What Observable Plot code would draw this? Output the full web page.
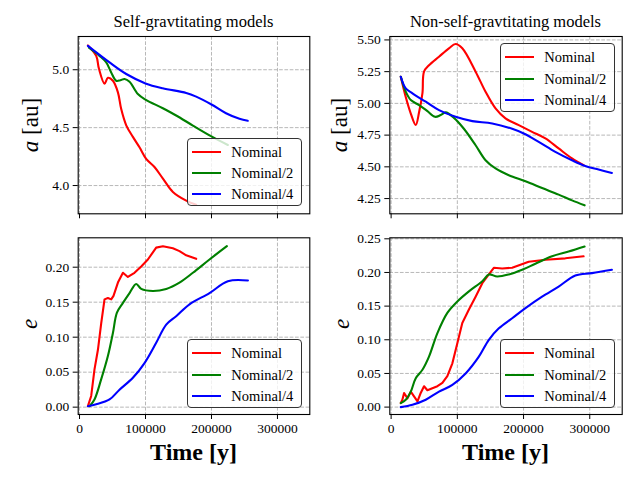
<!DOCTYPE html>
<html><head><meta charset="utf-8">
<script src="https://cdn.jsdelivr.net/npm/d3@7"></script>
<script src="https://cdn.jsdelivr.net/npm/@observablehq/plot@0.6"></script>
<style>
body{margin:0;background:#fff;}
#wrap{position:relative;width:640px;height:480px;font-family:"Liberation Serif",serif;overflow:hidden;}
.pan{position:absolute;}
.lbl{position:absolute;white-space:nowrap;color:#000;transform:translate(-50%,-50%);line-height:1;}
.rot{transform:translate(-50%,-50%) rotate(-90deg);}
.legend{position:absolute;width:113px;height:66.6px;border:1px solid #333;border-radius:4px;background:rgba(255,255,255,0.8);}
.sw{position:absolute;left:4px;width:28.4px;height:2px;}
.lt{position:absolute;left:43px;font-size:14.5px;line-height:1;transform:translateY(-50%);white-space:nowrap;}
</style></head>
<body><div id="wrap"></div>
<script>
// ---- data (time in years) ----
const seriesNames = ["Nominal", "Nominal/2", "Nominal/4"];
const seriesColors = ["red", "green", "blue"];
const xTicks = [0, 100000, 200000, 300000];

// Self-gravitating, semi-major axis a [au]
const sgA_nom_t = [12700, 25300, 29400, 37900, 43000, 50600, 58200, 63200, 70800, 80900, 90900, 101000, 113600, 126400, 141500, 161700, 176800];
const sgA_nom   = [5.21, 5.12, 5.01, 4.88, 4.93, 4.905, 4.805, 4.66, 4.52, 4.42, 4.33, 4.23, 4.16, 4.06, 3.945, 3.87, 3.835];
const sgA_half_t = [14200, 30300, 40500, 48000, 55600, 62000, 68200, 75800, 88400, 100000, 126300, 146500, 171800, 200000, 224800];
const sgA_half   = [5.19, 5.12, 5.063, 4.977, 4.905, 4.91, 4.92, 4.897, 4.79, 4.742, 4.667, 4.605, 4.518, 4.424, 4.35];
const sgA_quar_t = [12700, 45500, 70800, 100000, 126000, 161700, 176800, 200000, 222000, 242400, 255000];
const sgA_quar   = [5.206, 5.063, 4.963, 4.882, 4.84, 4.80, 4.768, 4.70, 4.624, 4.576, 4.559];

// Non-self-gravitating, a [au]
const nsgA_nom_t = [14600, 22100, 29700, 37200, 42200, 47300, 49700, 57200, 72300, 87300, 97400, 107500, 127600, 142600, 157700, 172700, 192800, 212900, 233000, 253000, 273200, 290700];
const nsgA_nom   = [5.21, 5.05, 4.92, 4.83, 4.93, 5.08, 5.25, 5.30, 5.368, 5.434, 5.468, 5.434, 5.25, 5.092, 4.96, 4.882, 4.829, 4.776, 4.724, 4.645, 4.566, 4.513];
const nsgA_half_t = [14600, 22100, 29700, 42200, 54800, 66300, 74800, 82400, 94900, 109900, 127600, 142600, 157700, 177700, 202900, 228000, 253000, 273200, 292200];
const nsgA_half   = [5.21, 5.092, 5.026, 4.987, 4.939, 4.894, 4.908, 4.929, 4.886, 4.80, 4.67, 4.552, 4.487, 4.434, 4.386, 4.333, 4.281, 4.236, 4.197];
const nsgA_quar_t = [14600, 22100, 32200, 52300, 72300, 97400, 122600, 152700, 182800, 200300, 222900, 248000, 273200, 293200, 313300, 333400];
const nsgA_quar   = [5.21, 5.118, 5.079, 5.013, 4.947, 4.894, 4.86, 4.842, 4.80, 4.763, 4.697, 4.618, 4.552, 4.507, 4.479, 4.452];

// Self-gravitating, eccentricity e
const sgE_nom_t = [12700, 17700, 22700, 27900, 32900, 37900, 43000, 48000, 51500, 58200, 65800, 73300, 83300, 93500, 103600, 116200, 126400, 141500, 151500, 161700, 176800];
const sgE_nom   = [0.0014, 0.016, 0.054, 0.082, 0.12, 0.154, 0.156, 0.154, 0.159, 0.178, 0.192, 0.186, 0.192, 0.201, 0.211, 0.228, 0.23, 0.227, 0.223, 0.217, 0.212];
const sgE_half_t = [15200, 22700, 32900, 43000, 50600, 56700, 65800, 75800, 85900, 93500, 111200, 131400, 151500, 171800, 197000, 223300];
const sgE_half   = [0.0014, 0.011, 0.04, 0.073, 0.106, 0.135, 0.149, 0.163, 0.176, 0.169, 0.166, 0.169, 0.178, 0.192, 0.211, 0.23];
const sgE_quar_t = [12700, 25300, 45500, 60600, 80900, 98500, 116200, 131400, 146500, 166700, 197000, 224800, 255200];
const sgE_quar   = [0.0014, 0.004, 0.011, 0.025, 0.042, 0.063, 0.092, 0.118, 0.13, 0.147, 0.163, 0.18, 0.181];

// Non-self-gravitating, e
const nsgE_nom_t = [14600, 17000, 19600, 24700, 29700, 34600, 39800, 44700, 49700, 54800, 62300, 69900, 77400, 84900, 92500, 100000, 107500, 117500, 127600, 137700, 147600, 155100, 167800, 182800, 207800, 233000, 263100, 290700];
const nsgE_nom   = [0.006, 0.011, 0.021, 0.013, 0.023, 0.016, 0.0085, 0.021, 0.031, 0.025, 0.028, 0.031, 0.036, 0.046, 0.065, 0.095, 0.125, 0.145, 0.164, 0.184, 0.197, 0.207, 0.206, 0.207, 0.216, 0.219, 0.221, 0.224];
const nsgE_half_t = [14600, 22100, 29700, 37200, 47300, 57200, 69900, 84900, 100000, 117500, 137700, 147600, 160200, 177700, 197900, 217900, 243100, 268100, 292200];
const nsgE_half   = [0.006, 0.011, 0.023, 0.043, 0.0555, 0.075, 0.11, 0.14, 0.157, 0.172, 0.187, 0.197, 0.194, 0.197, 0.204, 0.213, 0.224, 0.231, 0.2385];
const nsgE_quar_t = [14600, 32200, 52300, 72300, 92500, 112500, 132500, 147600, 162700, 182800, 202900, 228000, 253000, 278200, 303300, 333400];
const nsgE_quar   = [0.0, 0.0035, 0.011, 0.023, 0.033, 0.05, 0.075, 0.1, 0.117, 0.132, 0.147, 0.164, 0.179, 0.1955, 0.199, 0.204];

const sgATicks = [4.0, 4.5, 5.0];
const nsgATicks = [4.25, 4.5, 4.75, 5.0, 5.25, 5.5];
const sgETicks = [0, 0.05, 0.10, 0.15, 0.20];
const nsgETicks = [0, 0.05, 0.10, 0.15, 0.20, 0.25];

// ---- drawing ----
const xDomain = [-2000, 349000];
const wrap = document.getElementById("wrap");

function rows(t, v, name) { return t.map((d, i) => ({t: d, v: v[i], name})); }

function panel(o) {
  const lines = o.series.map((s, i) => Plot.line(rows(s[0], s[1], seriesNames[i]), {
    x: "t", y: "v", stroke: seriesColors[i], strokeWidth: 2.1,
    curve: (s[2] || "catmull-rom")
  }));
  const svg = Plot.plot({
    width: o.w, height: o.h,
    marginLeft: o.mL, marginRight: o.mR, marginTop: o.mT, marginBottom: o.mB,
    style: {background: "transparent", fontFamily: "'Liberation Serif', serif", fontSize: "13.5px", color: "black", overflow: "visible"},
    x: {domain: xDomain, type: "linear"},
    y: {domain: o.yDomain, type: "linear"},
    marks: [
      Plot.gridX(xTicks, {stroke: "#b0b0b0", strokeOpacity: 1, strokeWidth: 0.9, strokeDasharray: "3.7,1.6"}),
      Plot.gridY(o.yTicks, {stroke: "#b0b0b0", strokeOpacity: 1, strokeWidth: 0.9, strokeDasharray: "3.7,1.6"}),
      ...lines,
      Plot.axisX(xTicks, {tickSize: 5, tickPadding: 4, strokeWidth: 1, label: null,
        tickFormat: o.showX ? (d => String(d)) : (() => "")}),
      Plot.axisY(o.yTicks, {tickSize: 5, tickPadding: 4, strokeWidth: 1, label: null, tickFormat: o.yFmt}),
      Plot.frame({stroke: "black", strokeWidth: 1.1})
    ]
  });
  svg.classList.add("pan");
  svg.style.left = o.left + "px";
  svg.style.top = o.top + "px";
  wrap.appendChild(svg);
}

const f1 = d3.format(".1f"), f2 = d3.format(".2f");

panel({left: 0, top: 0, w: 320, h: 225, mL: 77.7, mR: 10.7, mT: 36, mB: 11.7,
  yDomain: [3.756, 5.287], yTicks: sgATicks, yFmt: f1, showX: false,
  series: [[sgA_nom_t, sgA_nom], [sgA_half_t, sgA_half], [sgA_quar_t, sgA_quar]]});
panel({left: 320, top: 0, w: 320, h: 225, mL: 69.3, mR: 18.3, mT: 36, mB: 11.7,
  yDomain: [4.13, 5.527], yTicks: nsgATicks, yFmt: f2, showX: false,
  series: [[nsgA_nom_t, nsgA_nom], [nsgA_half_t, nsgA_half], [nsgA_quar_t, nsgA_quar]]});
panel({left: 0, top: 225, w: 320, h: 255, mL: 77.7, mR: 10.7, mT: 12.3, mB: 66,
  yDomain: [-0.0105, 0.242], yTicks: sgETicks, yFmt: f2, showX: true,
  series: [[sgE_nom_t, sgE_nom, "linear"], [sgE_half_t, sgE_half], [sgE_quar_t, sgE_quar]]});
panel({left: 320, top: 225, w: 320, h: 255, mL: 69.3, mR: 18.3, mT: 12.3, mB: 66,
  yDomain: [-0.011, 0.2515], yTicks: nsgETicks, yFmt: f2, showX: true,
  series: [[nsgE_nom_t, nsgE_nom, "linear"], [nsgE_half_t, nsgE_half], [nsgE_quar_t, nsgE_quar]]});

function label(html, x, y, size, extra) {
  const d = document.createElement("div");
  d.className = "lbl" + (extra && extra.rot ? " rot" : "");
  d.innerHTML = html;
  d.style.left = x + "px"; d.style.top = y + "px"; d.style.fontSize = size + "px";
  if (extra && extra.bold) d.style.fontWeight = "bold";
  wrap.appendChild(d);
}
label("Self-gravtitating models", 193.5, 22, 16.5);
label("Non-self-gravtitating models", 505.5, 22, 16.5);
label("<i>a</i> [au]", 30, 125, 23, {rot: true});
label("<i>a</i> [au]", 339, 125, 23, {rot: true});
label("<i>e</i>", 29, 324, 23, {rot: true});
label("<i>e</i>", 341, 324, 23, {rot: true});
label("Time [y]", 193.5, 452, 24, {bold: true});
label("Time [y]", 505.5, 452, 24, {bold: true});

function legend(x, y) {
  const box = document.createElement("div");
  box.className = "legend";
  box.style.left = x + "px"; box.style.top = y + "px";
  const rowY = [13, 34.6, 55.6];
  seriesNames.forEach((n, i) => {
    const sw = document.createElement("div");
    sw.className = "sw"; sw.style.top = (rowY[i] - 1) + "px"; sw.style.background = seriesColors[i];
    const t = document.createElement("div");
    t.className = "lt"; t.style.top = rowY[i] + "px"; t.textContent = n;
    box.appendChild(sw); box.appendChild(t);
  });
  wrap.appendChild(box);
}
legend(187.3, 137.7);
legend(500.3, 43);
legend(187.3, 339.3);
legend(500.3, 339.3);
</script></body></html>
